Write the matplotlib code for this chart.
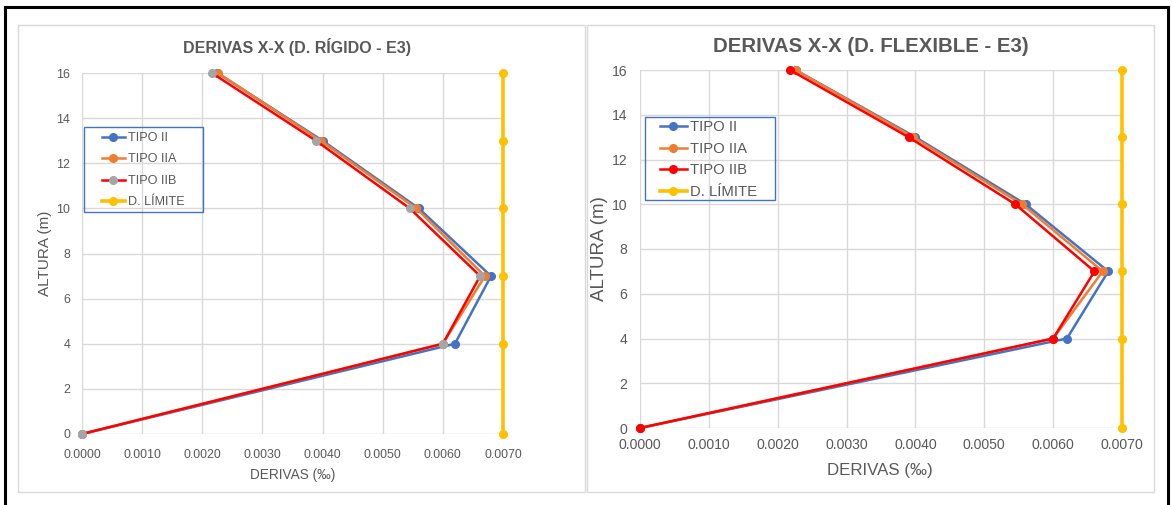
import matplotlib
matplotlib.use("Agg")
import matplotlib.pyplot as plt
from matplotlib.patches import Rectangle
from matplotlib.lines import Line2D

plt.rcParams["font.family"] = ["Liberation Sans", "DejaVu Sans"]

# Story heights (m)
heights = [0, 4, 7, 10, 13, 16]

# Drifts, rigid diaphragm
rigid_tipo_ii = [0.0, 0.0062, 0.0068, 0.0056, 0.0040, 0.00225]
rigid_tipo_iia = [0.0, 0.0060, 0.0067, 0.00556, 0.00397, 0.00226]
rigid_tipo_iib = [0.0, 0.0060, 0.00662, 0.00545, 0.00389, 0.00216]

# Drifts, flexible diaphragm
flex_tipo_ii = [0.0, 0.0062, 0.0068, 0.0056, 0.0040, 0.00226]
flex_tipo_iia = [0.0, 0.0060, 0.00672, 0.00555, 0.00397, 0.00226]
flex_tipo_iib = [0.0, 0.0060, 0.0066, 0.00545, 0.0039, 0.00218]

# Allowable drift
drift_limit = [0.007, 0.007, 0.007, 0.007, 0.007, 0.007]

series_labels = ["TIPO II", "TIPO IIA", "TIPO IIB", "D. LÍMITE"]
x_ticks = [0.0, 0.001, 0.002, 0.003, 0.004, 0.005, 0.006, 0.007]
y_ticks = [0, 2, 4, 6, 8, 10, 12, 14, 16]

BLUE = "#4472C4"
ORANGE = "#ED7D31"
GREY = "#A5A5A5"
RED = "#FF0000"
GOLD = "#FFC000"
TEXT = "#595959"
GRID = "#D9D9D9"

W, H = 1172, 505
fig = plt.figure(figsize=(W / 100, H / 100), dpi=100)
fig.patch.set_facecolor("white")


def fx(px):
    return px / W


def fy(py):
    return 1 - py / H


# outer black border (left, top, right)
for xs, ys in [([4.5, 4.5], [7, 505]), ([4.5, 1168], [7, 7]), ([1168, 1168], [7, 505])]:
    fig.add_artist(Line2D([fx(v) for v in xs], [fy(v) for v in ys],
                          color="black", lw=2.2, transform=fig.transFigure))

# chart frames
for x0, x1 in [(18, 585), (587, 1154)]:
    fig.add_artist(Rectangle((fx(x0), fy(492)), fx(x1) - fx(x0), fy(25) - fy(492),
                             transform=fig.transFigure, fill=False,
                             edgecolor=GRID, lw=1.0))


def make_chart(box, title, tsize, tick_size, lab_size, ylab_size,
               title_xy, xlab_xy, ylab_xy, xpad, ypad,
               data, iib_marker, leg_box, leg_anchor, leg_size, leg_spacing):
    x0, x1, ytop, ybot = box
    ax = fig.add_axes([fx(x0), fy(ybot), fx(x1) - fx(x0), fy(ytop) - fy(ybot)])
    ax.set_xlim(0, 0.007)
    ax.set_ylim(0, 16)
    ax.set_xticks(x_ticks)
    ax.set_yticks(y_ticks)
    ax.set_xticklabels([f"{v:.4f}" for v in x_ticks])
    ax.grid(True, color=GRID, lw=1.0)
    ax.set_axisbelow(True)
    for s in ax.spines.values():
        s.set_visible(False)
    ax.tick_params(length=0, colors=TEXT, labelsize=tick_size)
    ax.tick_params(axis="x", pad=xpad)
    ax.tick_params(axis="y", pad=ypad)

    ii, iia, iib = data
    ax.plot(ii, heights, color=BLUE, lw=1.8, marker="o", ms=5.5,
            clip_on=False, label=series_labels[0], zorder=3)
    ax.plot(iia, heights, color=ORANGE, lw=1.8, marker="o", ms=5.5,
            clip_on=False, label=series_labels[1], zorder=4)
    ax.plot(iib, heights, color=RED, lw=1.8, marker="o", ms=5.5,
            mfc=iib_marker, mec=iib_marker,
            clip_on=False, label=series_labels[2], zorder=5)
    ax.plot(drift_limit, heights, color=GOLD, lw=2.6, marker="o", ms=5.5,
            clip_on=False, label=series_labels[3], zorder=3)

    fig.text(fx(title_xy[0]), fy(title_xy[1]), title, ha="center", va="center",
             fontsize=tsize, fontweight="bold", color=TEXT)
    fig.text(fx(xlab_xy[0]), fy(xlab_xy[1]), "DERIVAS (‰)", ha="center",
             va="center", fontsize=lab_size, color=TEXT)
    fig.text(fx(ylab_xy[0]), fy(ylab_xy[1]), "ALTURA (m)", ha="center",
             va="center", rotation=90, fontsize=ylab_size, color=TEXT)

    bx0, by0, bx1, by1 = leg_box
    fig.add_artist(Rectangle((fx(bx0), fy(by1)), fx(bx1) - fx(bx0), fy(by0) - fy(by1),
                             transform=fig.transFigure, fill=False,
                             edgecolor=BLUE, lw=1.0, zorder=10))
    leg = ax.legend(loc="upper left",
                    bbox_to_anchor=(fx(leg_anchor[0]), fy(leg_anchor[1])),
                    bbox_transform=fig.transFigure, frameon=False,
                    fontsize=leg_size, borderpad=0, borderaxespad=0,
                    handlelength=1.8, handletextpad=0.25,
                    labelspacing=leg_spacing)
    for t in leg.get_texts():
        t.set_color(TEXT)
    return ax


make_chart((82, 503, 73, 434), "DERIVAS X-X (D. RÍGIDO - E3)", 11.5, 8.9, 9.8, 11.0,
           (297, 47), (293, 475), (45, 253), 10.5, 8.5,
           (rigid_tipo_ii, rigid_tipo_iia, rigid_tipo_iib), GREY,
           (84, 127, 203, 212), (102, 132), 9.1, 0.75)

make_chart((640, 1122, 70, 428), "DERIVAS X-X (D. FLEXIBLE - E3)", 14.7, 10.1, 12.2, 13.5,
           (871, 47), (880, 470), (600, 249), 7.0, 9.0,
           (flex_tipo_ii, flex_tipo_iia, flex_tipo_iib), RED,
           (645, 117, 775, 200), (660, 120), 10.7, 0.52)

fig.savefig("out.png", dpi=100)
